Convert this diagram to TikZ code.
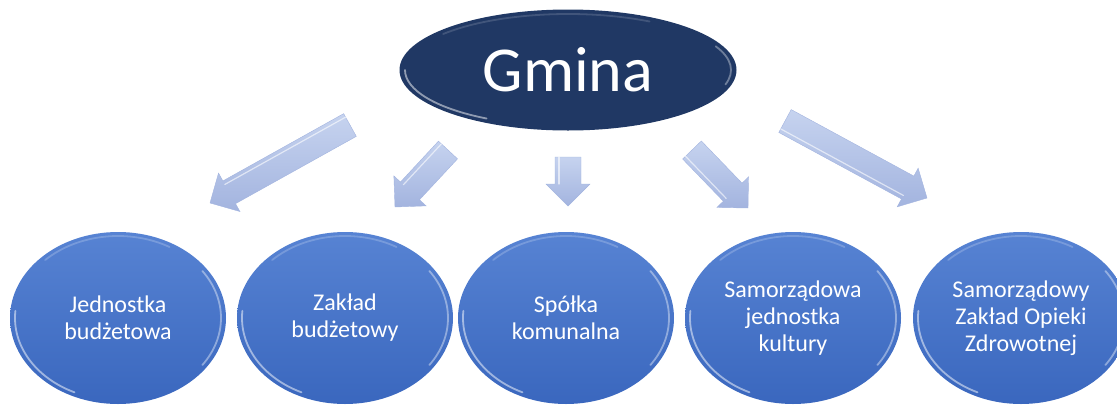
\documentclass[tikz,border=0pt]{standalone}
\usepackage{fontspec}
\setmainfont{Carlito}
\usetikzlibrary{shapes.geometric,calc}
\definecolor{navy}{HTML}{203864}
\definecolor{blueTop}{HTML}{5783D3}
\definecolor{blueBot}{HTML}{3A67BE}
\definecolor{arrA}{HTML}{C6D3EF}
\definecolor{arrB}{HTML}{A3B4DF}
\newcommand\blockarr[2]{%
  \coordinate (h) at ($(#2)!22pt!(#1)$);
  \path[blockarrow] ($(#1)!13pt!90:(#2)$) -- ($(h)!13pt!90:(#2)$) -- ($(h)!22pt!90:(#2)$)
    -- (#2) -- ($(h)!22pt!-90:(#2)$) -- ($(h)!13pt!-90:(#2)$) -- ($(#1)!13pt!-90:(#2)$) -- cycle;
  \draw[white, opacity=0.6, line width=1.2pt, line cap=round] ($(#1)!9pt!-90:(#2)$) -- ($(h)!9pt!-90:(#2)$);
}
\begin{document}
\begin{tikzpicture}[x=1pt,y=-1pt,
  topnode/.style={ellipse, fill=navy, minimum width=337pt, minimum height=121pt, inner sep=0pt,
    text=white, font=\fontsize{64}{70}\selectfont},
  unit/.style={ellipse, top color=blueTop, bottom color=blueBot, minimum width=216pt,
    minimum height=172pt, inner sep=0pt, text=white, align=center,
    font=\fontsize{24}{27}\selectfont},
  rim/.style={white, opacity=0.5, line width=1.8pt, line cap=round},
  blockarrow/.style={top color=arrA, bottom color=arrB, draw=arrB, line width=0.4pt}
]
\path[use as bounding box] (0,0) rectangle (1117,405);
\clip (0,0) rectangle (1117,405);

\node[topnode] (g) at (568,70) {Gmina};
\draw[rim, opacity=0.5] ($(g.center)+(120:163 and 56)$) arc[start angle=120, end angle=180, x radius=163, y radius=56];
\draw[rim, opacity=0.35] ($(g.center)+(-25:163 and 56)$) arc[start angle=-25, end angle=15, x radius=163, y radius=56];
\draw[rim, opacity=0.15] ($(g.center)+(220:163 and 56)$) arc[start angle=220, end angle=300, x radius=163, y radius=56];

\node[unit] (u1) at (118,318) {Jednostka\\budżetowa};
\node[unit] (u2) at (345,318) {Zakład\\budżetowy};
\node[unit] (u3) at (566,318) {Spółka\\komunalna};
\node[unit] (u4) at (793,318) {Samorządowa\\jednostka\\kultury};
\node[unit] (u5) at (1021,318) {Samorządowy\\Zakład Opieki\\Zdrowotnej};
\foreach \n in {u1,u2,u3,u4,u5}{
  \draw[rim] ($(\n.center)+(115:103 and 82)$) arc[start angle=115, end angle=185, x radius=103, y radius=82];
  \draw[rim, opacity=0.4] ($(\n.center)+(-35:103 and 82)$) arc[start angle=-35, end angle=35, x radius=103, y radius=82];
  \draw[rim, opacity=0.2] ($(\n.center)+(225:103 and 82)$) arc[start angle=225, end angle=300, x radius=103, y radius=82];
}

\coordinate (t1) at (350,125); \coordinate (p1) at (210,203);
\coordinate (t2) at (448,150); \coordinate (p2) at (395,207);
\coordinate (t3) at (568,157); \coordinate (p3) at (568,206);
\coordinate (t4) at (692,150); \coordinate (p4) at (748,208);
\coordinate (t5) at (785,121); \coordinate (p5) at (927,198);
\blockarr{t1}{p1}
\blockarr{t2}{p2}
\blockarr{t3}{p3}
\blockarr{t4}{p4}
\blockarr{t5}{p5}
\end{tikzpicture}
\end{document}
